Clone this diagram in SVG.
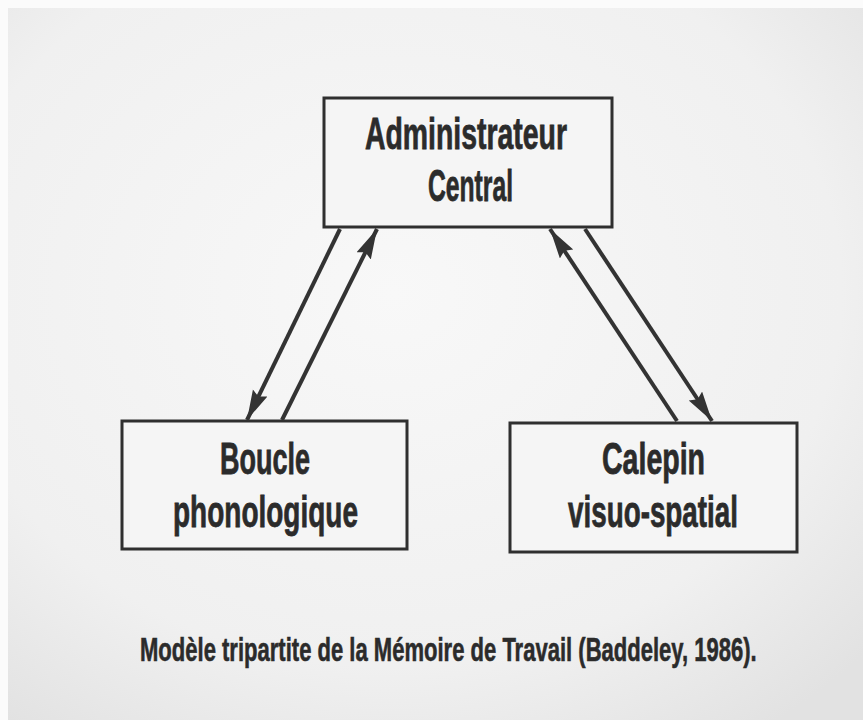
<svg xmlns="http://www.w3.org/2000/svg" width="863" height="720" viewBox="0 0 863 720">
  <defs>
    <radialGradient id="bg" cx="45%" cy="40%" r="75%">
      <stop offset="0" stop-color="#f8f8f8"/>
      <stop offset="0.7" stop-color="#f0f0f0"/>
      <stop offset="1" stop-color="#e2e2e2"/>
    </radialGradient>
    <marker id="head" markerUnits="userSpaceOnUse" markerWidth="32" markerHeight="18" refX="30" refY="8" orient="auto">
      <path d="M0,0 L30,8 L0,16 L4,8 Z" fill="#333"/>
    </marker>
    <style>
      .box { fill: #f5f5f5; stroke: #2f2f2f; stroke-width: 3; }
      .lbl { font-family: "Liberation Sans", Arial, sans-serif; font-weight: bold; font-size: 44px; fill: #2b2b2b; stroke: #2b2b2b; stroke-width: 0.8; }
      .cap { font-family: "Liberation Sans", Arial, sans-serif; font-weight: bold; font-size: 34px; fill: #2b2b2b; stroke: #2b2b2b; stroke-width: 0.6; }
      .conn { stroke: #333; stroke-width: 4; fill: none; marker-end: url(#head); }
    </style>
  </defs>
  <rect x="0" y="0" width="863" height="720" fill="#fbfbfb"/>
  <rect x="8" y="8" width="855" height="712" fill="url(#bg)"/>

  <g id="admin">
    <rect class="box" x="324" y="98" width="288" height="129"/>
    <text class="lbl" x="365" y="149" textLength="202" lengthAdjust="spacingAndGlyphs">Administrateur</text>
    <text class="lbl" x="428" y="201" textLength="85" lengthAdjust="spacingAndGlyphs">Central</text>
  </g>

  <g id="boucle">
    <rect class="box" x="122" y="421" width="285" height="128"/>
    <text class="lbl" x="220" y="474" textLength="90" lengthAdjust="spacingAndGlyphs">Boucle</text>
    <text class="lbl" x="173" y="527" textLength="185" lengthAdjust="spacingAndGlyphs">phonologique</text>
  </g>

  <g id="calepin">
    <rect class="box" x="510" y="423" width="287" height="129"/>
    <text class="lbl" x="602" y="474" textLength="103" lengthAdjust="spacingAndGlyphs">Calepin</text>
    <text class="lbl" x="568" y="527" textLength="170" lengthAdjust="spacingAndGlyphs">visuo-spatial</text>
  </g>

  <g id="connectors">
    <line class="conn" x1="340" y1="229" x2="247" y2="420"/>
    <line class="conn" x1="282" y1="420" x2="377" y2="229"/>
    <line class="conn" x1="677" y1="421" x2="550" y2="229"/>
    <line class="conn" x1="585" y1="229" x2="712" y2="421"/>
  </g>

  <g transform="translate(140,661) scale(0.7,1)">
    <text class="cap" x="0" y="0" textLength="881" lengthAdjust="spacingAndGlyphs">Modèle tripartite de la Mémoire de Travail (Baddeley, 1986).</text>
  </g>
</svg>
